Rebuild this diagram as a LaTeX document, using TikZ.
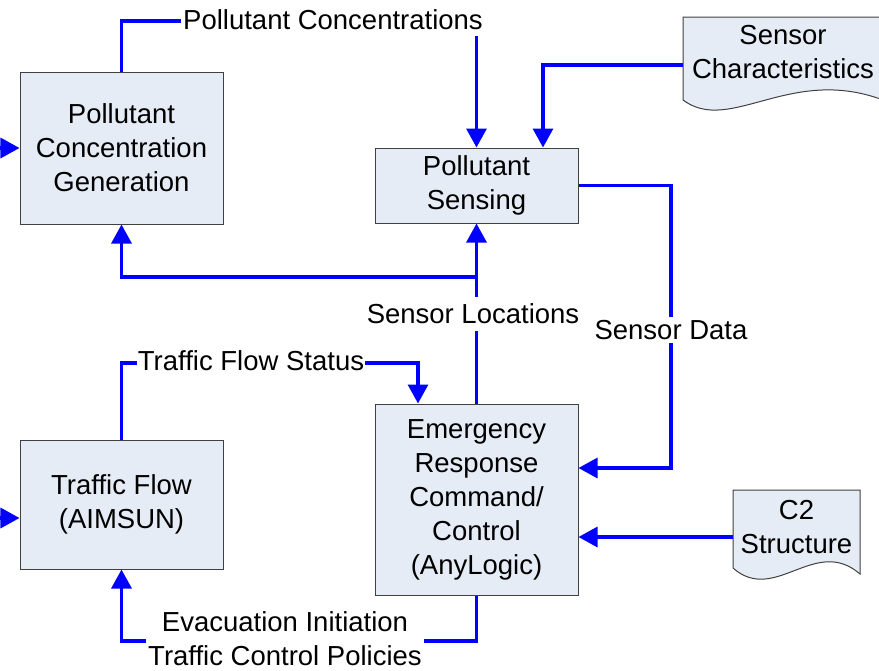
\documentclass[tikz,border=0pt]{standalone}
\usepackage{fontspec}
\setmainfont{Liberation Sans}
\usetikzlibrary{arrows.meta}
\definecolor{boxfill}{RGB}{230,236,246}
\definecolor{boxline}{RGB}{64,64,64}
\definecolor{flow}{RGB}{0,0,255}
\begin{document}
\begin{tikzpicture}[x=1pt,y=-1pt,
  lbl/.style={font=\fontsize{27.5}{34}\selectfont, inner sep=2pt, align=center},
  proc/.style={lbl, draw=boxline, fill=boxfill, line width=1pt, minimum width=203pt},
  docnode/.style={inner sep=0pt},
  docshape/.style={draw=boxline, fill=boxfill, line width=1pt},
  flowline/.style={draw=flow, line width=3.2pt},
  arr/.style={flowline, -{Triangle[length=19pt,width=20pt]}},
  gaplbl/.style={lbl, fill=white}]
\useasboundingbox (0,0) rectangle (879,670);
\clip (0,0) rectangle (879,670);

% document shapes
\node[docnode, minimum width=200pt, minimum height=96pt] (sc) at (783,65) {};
\path[docshape] (683,17) -- (883,17) -- (883,100) .. controls (790,65) and (730,135) .. (683,100) -- cycle;
\node[lbl] (sctext) at (783,52) {Sensor\\Characteristics};

\node[docnode, minimum width=127pt, minimum height=94pt] (c2) at (796.5,537) {};
\path[docshape] (733,490) -- (860,490) -- (860,574) .. controls (815,535) and (775,605) .. (733,568) -- cycle;
\node[lbl] (c2text) at (796.5,527) {C2\\Structure};

% process boxes
\node[proc, minimum height=152pt] (pcg) at (121.5,148) {Pollutant\\Concentration\\Generation};
\node[proc, minimum height=75pt] (ps) at (476.5,185.5) {Pollutant\\Sensing};
\node[proc, minimum height=129pt] (tf) at (121.5,504.5) {Traffic Flow\\(AIMSUN)};
\node[proc, minimum height=191pt] (ercc) at (476.5,499.5) {Emergency\\Response\\Command/\\Control\\(AnyLogic)};

% helper coordinates
\coordinate (inP) at (-10,148);
\coordinate (inT) at (-10,518);
\coordinate (pcTurn) at (476.5,21);
\coordinate (br) at (476.5,277);
\coordinate (sdc) at (671,468);
\coordinate (tfs) at (418,363);
\coordinate (ev) at (476.5,641);

% connectors
\draw[arr] (inP) -- (pcg.west);
\draw[arr] (inT) -- (inT -| tf.west);
\draw[arr] (pcg.north) |- (pcTurn) -- (ps.north);
\draw[arr] (sc.west) -| ([xshift=66.5pt]ps.north);
\draw[arr] (ercc.north) -- (ps.south);
\draw[arr] (br) -| (pcg.south);
\draw[arr] (ps.east) -| (sdc) -- (sdc -| ercc.east);
\draw[arr] (tf.north) |- (tfs) -- (tfs |- ercc.north);
\draw[arr] (c2.west) -- (c2.west -| ercc.east);
\draw[arr] (ercc.south) -- (ev) -| (tf.south);

% labels on connectors
\node[gaplbl, inner ysep=6pt] (lpc) at (333,20) {Pollutant Concentrations};
\node[gaplbl, inner ysep=7pt] (lsl) at (473,314) {Sensor Locations};
\node[gaplbl, inner ysep=3pt] (lsd) at (671,330) {Sensor Data};
\node[gaplbl, inner xsep=1pt] (ltfs) at (251,361) {Traffic Flow Status};
\node[gaplbl] (lev) at (285,639) {Evacuation Initiation\\Traffic Control Policies};
\end{tikzpicture}
\end{document}
